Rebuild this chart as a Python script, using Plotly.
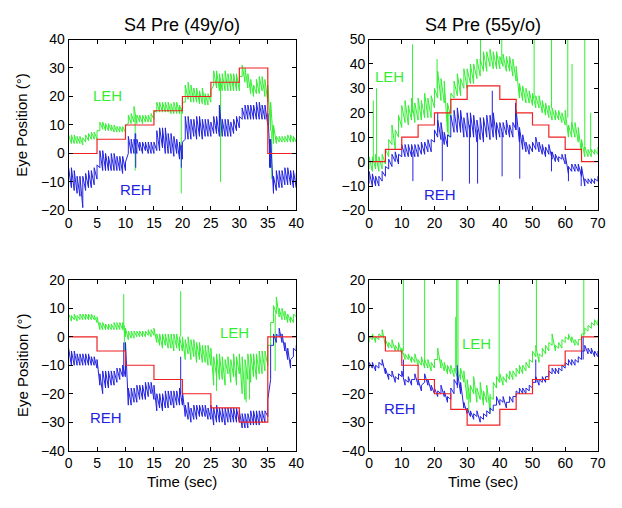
import plotly.graph_objects as go

# ---------------- data ----------------
# Each eye trace is given as its lower / upper envelope at regular samples,
# plus isolated spikes (time, level before spike, spike tip).
STEP_49 = 0.5   # 49 y/o panels: 0..40 s
STEP_55 = 1.0   # 55 y/o panels: 0..70 s

# ---- top-left: S4 Pre (49y/o), rightward targets
tl_target_t = [0, 5, 10, 15, 20, 25, 30, 35, 40]
tl_target_v = [0, 5, 10, 15, 20, 25, 30, 0, 0]
tl_leh_lo = [3.5, 3.5, 3.5, 3.5, 3.5, 3, 4, 4.5, 5, 5,
             5, 8, 8.5, 8, 8, 8, 7.5, 7.5, 7.5, 7.5,
             7.5, 10.5, 10.5, 11, 10.5, 11, 10.5, 11, 11, 11,
             12, 14.5, 14.5, 14.5, 14.5, 14.5, 14, 14, 14, 14,
             14, 18, 19, 18, 18, 18, 17.5, 17.5, 17, 17,
             18, 24, 23, 22, 22, 22, 22, 22, 22, 22,
             22, 27, 25, 23, 21, 20, 21, 21, 22, 20,
             18, 8, 3.5, 3.5, 4, 4, 4, 4, 4, 4,
             4]
tl_leh_hi = [6.5, 6.5, 6.5, 6, 6, 5.5, 6.5, 7, 7.5, 7.5,
             8, 11, 11, 10.5, 10.5, 10, 10, 9.5, 9.5, 9.5,
             10, 13.5, 14, 16.5, 13.5, 13.5, 13.5, 13.5, 13.5, 14,
             15, 18, 18, 18, 18, 18, 17.5, 18, 18, 17,
             18, 24, 25, 24, 23, 23, 22, 23, 21, 21,
             22, 29, 29, 28, 28, 29, 28, 28, 28, 28,
             27, 31, 30, 28, 26, 24, 26, 27, 27, 26,
             24, 18, 10, 6, 6, 6, 6, 6.5, 6.5, 6,
             5.5]
tl_leh_spikes = [(11.7, 13, -6), (19.8, 16, -14), (26.7, 25, -10), (35.7, 8, -9)]
tl_reh_lo = [-11, -12, -13, -14, -15, -19, -13, -12, -12, -11,
             -9, -5, -6, -6, -6, -6, -6, -6, -6, -7,
             -6, 0, 0, 0, 0, 1, 0, 1, 0, 0,
             0, 1, 1, 2, 0, 0, 0, -1, 0, -2,
             -2, 5, 5, 5, 6, 5, 6, 5, 6, 6,
             6, 7, 7, 6, 6, 6, 6, 6, 7, 8,
             9, 12, 12, 12, 12, 12, 12, 12, 12, 12,
             10, -5, -14, -13, -12, -12, -11, -11, -11, -12,
             -12]
tl_reh_hi = [-5, -5, -6, -8, -8, -8, -7, -6, -6, -5,
             -4, 1, 1, 0, -1, 0, 0, -1, -1, -1,
             -3, 6, 5, 5, 5, 4, 4, 4, 4, 4,
             4, 8, 9, 9, 9, 7, 7, 6, 5, 4,
             4, 13, 13, 12, 12, 13, 13, 12, 12, 12,
             11, 13, 13, 17, 12, 12, 12, 11, 12, 13,
             13, 16, 17, 17, 17, 17, 18, 18, 17, 17,
             14, 5, -8, -6, -6, -6, -5, -5, -6, -6,
             -7]
tl_reh_spikes = [(11.7, 3, 7), (11.8, 7, -5), (19.8, 3, -5), (26.5, 10, 17), (35.3, 5, -5)]

# ---- top-right: S4 Pre (55y/o)
tr_target_t = [0, 5, 10, 15, 20, 25, 30, 40, 45, 50, 55, 60, 65, 70]
tr_target_v = [0, 5, 10, 15, 20, 25.5, 31, 25.5, 20, 15, 10, 5, 0, 0]
tr_leh_lo = [-3, -4, -3, -4, -3, -1, 2, 7, 5, 10,
             14, 16, 15, 17, 16, 17, 17, 18, 18, 18,
             22, 26, 25, 24, 12, 18, 26, 27, 27, 30,
             30, 32, 32, 34, 35, 37, 37, 39, 38, 38,
             38, 39, 37, 37, 35, 33, 26, 25, 24, 24,
             23, 22, 22, 20, 19, 18, 17, 17, 17, 16,
             15, 10, 10, 10, 8, 3, 2, 2, 2, 3,
             3]
tr_leh_hi = [2, 2, 3, 2, 3, 5, 9, 15, 13, 19,
             23, 25, 23, 26, 24, 26, 25, 28, 26, 27,
             30, 37, 34, 33, 24, 28, 33, 36, 34, 38,
             38, 40, 40, 42, 42, 45, 45, 46, 45, 45,
             43, 44, 43, 43, 42, 39, 32, 31, 30, 29,
             28, 27, 27, 25, 24, 23, 22, 21, 21, 20,
             21, 15, 16, 16, 14, 9, 6, 5, 5, 5,
             6]
tr_leh_spikes = [(1.3, 0, 25), (2.3, 0, 30), (13.3, 20, 48), (20.8, 30, 42), (24.4, 20, 10),
                 (34.1, 40, 55), (40.6, 40, 55), (50.5, 26, 55), (55.8, 22, 55), (60.8, 18, 55),
                 (62.1, 13, 40), (66.0, 5, 55), (67.8, 4, 20)]
tr_reh_lo = [-9, -10, -10, -10, -8, -6, -3, -2, 0, -1,
             2, 2, 2, 2, 2, 2, 3, 3, 4, 4,
             8, 10, 9, 7, 6, 10, 12, 12, 12, 10,
             10, 10, 10, 8, 9, 8, 10, 9, 10, 9,
             10, 10, 11, 10, 10, 13, 8, 5, 4, 3,
             4, 5, 4, 3, 2, 3, 1, 0, 0, 1,
             -1, -5, -4, -4, -4, -6, -10, -9, -9, -9,
             -8]
tr_reh_hi = [-4, -5, -6, -6, -4, -2, 1, 3, 4, 3,
             7, 7, 7, 7, 7, 7, 8, 8, 9, 9,
             13, 17, 16, 12, 11, 19, 21, 22, 21, 18,
             20, 20, 19, 17, 18, 18, 19, 19, 20, 16,
             16, 16, 17, 15, 16, 21, 14, 11, 8, 7,
             8, 10, 8, 7, 6, 7, 4, 3, 2, 3,
             3, -2, -1, -1, -1, -2, -7, -7, -7, -7,
             -6]
tr_reh_spikes = [(13.4, 4, -8), (21.0, 12, 20), (22.4, 12, -8), (30.7, 15, -9), (33.2, 13, -9),
                 (37.7, 14, 29), (40.7, 12, -6), (44.8, 13, 24), (46.1, 12, -7), (55.8, 4, -4),
                 (61.0, -2, -8), (64.9, -3, -10)]

# ---- bottom-left: S4 Pre (49y/o), leftward targets
bl_target_t = [0, 5, 10, 15, 20, 25, 30, 35, 40]
bl_target_v = [0, -5, -10, -15, -20, -25, -30, 0, 0]
bl_leh_lo = [5.5, 5.5, 6, 5.5, 6, 6, 6, 6, 6, 6,
             5, 2.5, 2.5, 2.5, 2.5, 2.5, 2.5, 2.5, 2.5, 2.5,
             0, -1, -0.5, -0.5, 0, 0, 0, 0, 0.5, 0,
             0.5, -2, -3, -4, -3, -4, -4, -5, -4, -5,
             -5, -8, -6, -8, -7, -9, -8, -9, -9, -10,
             -10, -17, -14, -15, -15, -17, -13, -16, -14, -17,
             -13, -20, -22, -15, -16, -14, -15, -13, -13, -12,
             -10, -3, 5, 8, 7, 6, 6, 5, 5, 5,
             7]
bl_leh_hi = [8, 7.5, 8, 7.5, 8, 8, 8, 8, 8, 7.5,
             7, 5, 5, 4.5, 4.5, 4.5, 5, 5, 5, 5,
             3, 2, 2, 2, 2, 2, 2, 2, 2.5, 2.5,
             3, 1, 1, 1, 1, 1, 1, 1, 1, 0,
             0, -1, 0, -1, -1, -2, -2, -3, -3, -3,
             -4, -7, -6, -6, -7, -8, -7, -8, -6, -7,
             -6, -7, -8, -6, -6, -6, -6, -5, -5, -5,
             -3, 5, 11, 14, 10, 10, 9, 8, 7, 8,
             9]
bl_leh_spikes = [(9.7, 4, 15), (9.8, 4, -5), (19.7, 0, 16), (26.0, -8, -19),
                 (31.2, -12, -23), (31.8, -12, -22), (36.3, 8, -12)]
bl_reh_lo = [-10, -10, -10, -10, -10, -10, -10, -10, -10, -10,
             -11, -17, -20, -18, -18, -17, -17, -16, -15, -14,
             -14, -24, -24, -23, -23, -22, -22, -22, -21, -20,
             -22, -26, -25, -26, -25, -25, -24, -25, -24, -24,
             -24, -28, -29, -30, -29, -29, -28, -28, -28, -29,
             -29, -31, -30, -30, -30, -31, -30, -30, -30, -30,
             -30, -32, -32, -32, -31, -31, -31, -31, -30, -30,
             -28, -15, -3, -2, 0, -2, -5, -8, -11, -7,
             -5]
bl_reh_hi = [-4, -5, -5, -6, -6, -6, -6, -6, -7, -7,
             -8, -13, -12, -12, -12, -12, -12, -11, -11, -10,
             -2, -18, -18, -18, -17, -17, -17, -16, -16, -16,
             -17, -20, -20, -20, -19, -19, -19, -19, -19, -18,
             -19, -24, -23, -25, -24, -24, -24, -24, -24, -25,
             -24, -25, -24, -25, -25, -25, -25, -25, -25, -25,
             -26, -27, -27, -27, -26, -26, -26, -26, -26, -26,
             -22, -3, 1, 1, 3, 1, -2, -4, -8, -4,
             -3]
bl_reh_spikes = [(9.7, -14, -2), (19.7, -20, -7)]

# ---- bottom-right: S4 Pre (55y/o), leftward targets
br_target_t = [0, 5, 10, 15, 20, 25, 30, 40, 45, 50, 55, 60, 65, 70]
br_target_v = [0, -5, -10, -15, -20, -25.5, -31, -25.5, -20, -15, -10, -5, 0, 0]
br_leh_lo = [-2, -1, -2, -1, 0, -3, -4, -4, -5, -5,
             -6, -8, -8, -9, -9, -10, -10, -11, -11, -12,
             -11, -8, -11, -12, -13, -13, -14, -14, -15, -16,
             -22, -23, -20, -23, -22, -24, -23, -26, -22, -18,
             -16, -17, -16, -15, -15, -14, -13, -13, -12, -11,
             -9, -7, -9, -7, -6, -5, -3, -5, -4, -4,
             -2, -1, -2, -3, -3, -1, 1, 2, 3, 4,
             4]
br_leh_hi = [0, 1, 0, 1, 2.5, -1, -2, -1, -3, -2,
             -4, -6, -6, -7, -6, -8, -7, -8, -8, -9,
             -8, -4, -8, -9, -10, -10, -11, -11, -11, -12,
             -15, -17, -14, -18, -16, -19, -17, -21, -16, -14,
             -13, -14, -13, -12, -12, -11, -10, -10, -9, -8,
             -5, -3, -6, -4, -3, -2, 1, -3, -2, -1,
             0, 1, 0, -1, -1, 1, 3, 4, 5, 6,
             6]
br_leh_spikes = [(10.5, -5, 25), (17.0, -9, 25), (26.5, -12, 7), (26.8, -12, 25), (27.2, -12, 25),
                 (30.5, -18, -26), (37.0, -20, -27), (39.8, -16, 25), (51.2, -5, 25), (65.7, 0, 25)]
br_reh_lo = [-11, -11, -12, -11, -10, -13, -15, -14, -16, -15,
             -14, -17, -16, -17, -15, -17, -19, -16, -17, -19,
             -20, -21, -20, -21, -23, -22, -20, -17, -20, -25,
             -27, -28, -29, -28, -30, -29, -28, -27, -26, -24,
             -24, -23, -25, -23, -23, -21, -20, -20, -20, -19,
             -18, -16, -17, -16, -16, -14, -13, -13, -13, -12,
             -11, -10, -10, -10, -9, -8, -5, -6, -6, -7,
             -7]
br_reh_hi = [-9, -9, -10, -9, -8, -11, -13, -12, -14, -13,
             -12, -15, -14, -15, -13, -15, -17, -13, -15, -17,
             -18, -19, -17, -19, -21, -18, -15, -12, -16, -23,
             -25, -26, -27, -26, -28, -27, -26, -25, -24, -21,
             -22, -21, -23, -21, -21, -19, -18, -18, -18, -17,
             -16, -14, -15, -14, -14, -12, -11, -11, -11, -10,
             -9, -8, -8, -8, -7, -5, -3, -4, -4, -5,
             -5]
br_reh_spikes = [(10.5, -14, -8), (27.0, -18, -10), (51.0, -16, -8), (65.5, -8, 0)]

titles = ["S4 Pre (49y/o)", "S4 Pre (55y/o)"]
x_ticks_49 = list(range(0, 41, 5))
x_ticks_55 = list(range(0, 71, 10))

# ---------------- styling ----------------
GREEN = "#33ee33"
BLUE = "#2222e0"
RED = "#ee2222"
FONT = "Liberation Sans, Arial, sans-serif"
PAGE_W, PAGE_H = 622, 508
BODY = 8                      # default page margin around the plot div
W, H = PAGE_W - 2 * BODY, PAGE_H - 2 * BODY


def fx(px):                   # page pixel -> paper fraction (x)
    return (px - BODY) / W


def fy(py):                   # page pixel -> paper fraction (y)
    return 1 - (py - BODY) / H


def band_path(lo, hi, step, spikes):
    """Sawtooth path through the recorded envelope, then the spikes as strokes."""
    xs, ys = [], []
    for i, (a, b) in enumerate(zip(lo, hi)):
        t = i * step
        xs += [t, t]
        ys += [a, b]
    for t, base, tip in spikes:
        xs += [None, t, t]
        ys += [None, base, tip]
    return xs, ys


panels = [
    dict(leh=(tl_leh_lo, tl_leh_hi, tl_leh_spikes), reh=(tl_reh_lo, tl_reh_hi, tl_reh_spikes),
         step=STEP_49, tt=tl_target_t, tv=tl_target_v, xr=[0, 40], yr=[-20, 40], xt=x_ticks_49,
         yt=list(range(-20, 41, 10)), px=(65.7, 298.0), py=(32.3, 209.0),
         leh_lab=(6.8, 20.2), reh_lab=(11.9, -12.6)),
    dict(leh=(tr_leh_lo, tr_leh_hi, tr_leh_spikes), reh=(tr_reh_lo, tr_reh_hi, tr_reh_spikes),
         step=STEP_55, tt=tr_target_t, tv=tr_target_v, xr=[0, 70], yr=[-20, 50], xt=x_ticks_55,
         yt=list(range(-20, 51, 10)), px=(372.3, 605.7), py=(32.3, 209.0),
         leh_lab=(6.1, 35.0), reh_lab=(21.8, -13.4)),
    dict(leh=(bl_leh_lo, bl_leh_hi, bl_leh_spikes), reh=(bl_reh_lo, bl_reh_hi, bl_reh_spikes),
         step=STEP_49, tt=bl_target_t, tv=bl_target_v, xr=[0, 40], yr=[-40, 20], xt=x_ticks_49,
         yt=list(range(-40, 21, 10)), px=(65.7, 298.0), py=(280.7, 457.3),
         leh_lab=(29.2, 1.5), reh_lab=(6.6, -28.3)),
    dict(leh=(br_leh_lo, br_leh_hi, br_leh_spikes), reh=(br_reh_lo, br_reh_hi, br_reh_spikes),
         step=STEP_55, tt=br_target_t, tv=br_target_v, xr=[0, 70], yr=[-40, 20], xt=x_ticks_55,
         yt=list(range(-40, 21, 10)), px=(372.3, 605.7), py=(280.7, 457.3),
         leh_lab=(33.0, -2.4), reh_lab=(9.5, -25.3)),
]

fig = go.Figure()
annotations = []
layout_axes = {}

for i, p in enumerate(panels):
    n = "" if i == 0 else str(i + 1)
    xa, ya = "x" + n, "y" + n
    lx, ly = band_path(*p["leh"][:2], p["step"], p["leh"][2])
    rx, ry = band_path(*p["reh"][:2], p["step"], p["reh"][2])
    fig.add_trace(go.Scatter(x=lx, y=ly, mode="lines", line=dict(color=GREEN, width=1),
                             xaxis=xa, yaxis=ya, showlegend=False, connectgaps=False))
    fig.add_trace(go.Scatter(x=rx, y=ry, mode="lines", line=dict(color=BLUE, width=1),
                             xaxis=xa, yaxis=ya, showlegend=False, connectgaps=False))
    fig.add_trace(go.Scatter(x=p["tt"], y=p["tv"], mode="lines",
                             line=dict(color=RED, width=1.2, shape="hv"),
                             xaxis=xa, yaxis=ya, showlegend=False))
    common = dict(showline=True, linecolor="black", linewidth=1, mirror="ticks",
                  ticks="inside", ticklen=4, tickcolor="black", showgrid=False,
                  zeroline=False, tickfont=dict(family=FONT, size=14, color="black"))
    layout_axes["xaxis" + n] = dict(common, range=p["xr"], tickvals=p["xt"],
                                    domain=[fx(p["px"][0]), fx(p["px"][1])], anchor=ya)
    layout_axes["yaxis" + n] = dict(common, range=p["yr"], tickvals=p["yt"],
                                    domain=[fy(p["py"][1]), fy(p["py"][0])], anchor=xa)
    annotations.append(dict(x=p["leh_lab"][0], y=p["leh_lab"][1], xref=xa, yref=ya,
                            text="LEH", showarrow=False,
                            font=dict(family=FONT, size=15, color=GREEN)))
    annotations.append(dict(x=p["reh_lab"][0], y=p["reh_lab"][1], xref=xa, yref=ya,
                            text="REH", showarrow=False,
                            font=dict(family=FONT, size=15, color=BLUE)))

# titles
for cx, txt in [((65.7 + 298.0) / 2, titles[0]), ((372.3 + 605.7) / 2, titles[1])]:
    annotations.append(dict(x=fx(cx), y=fy(17), xref="paper", yref="paper",
                            text=txt, showarrow=False, xanchor="center", yanchor="middle",
                            font=dict(family=FONT, size=18, color="black")))
# y axis titles
for cy in [(32.3 + 209.0) / 2, (280.7 + 457.3) / 2]:
    annotations.append(dict(x=fx(18), y=fy(cy), xref="paper", yref="paper",
                            text="Eye Position (°)", textangle=-90, showarrow=False,
                            xanchor="center", yanchor="middle",
                            font=dict(family=FONT, size=15, color="black")))
# x axis titles
for cx in [(65.7 + 298.0) / 2, (372.3 + 605.7) / 2]:
    annotations.append(dict(x=fx(cx), y=fy(489), xref="paper", yref="paper",
                            text="Time (sec)", showarrow=False,
                            xanchor="center", yanchor="middle",
                            font=dict(family=FONT, size=15, color="black")))

fig.update_layout(width=W, height=H, margin=dict(l=0, r=0, t=0, b=0),
                  paper_bgcolor="white", plot_bgcolor="white",
                  annotations=annotations, **layout_axes)

fig.write_html("out.html")
